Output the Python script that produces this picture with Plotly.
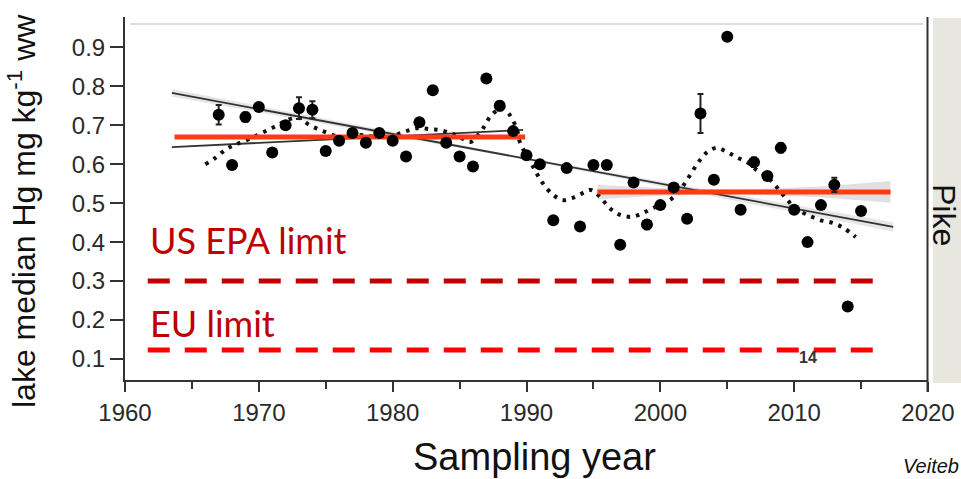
import plotly.graph_objects as go
import numpy as np

# ---------------- data ----------------
years = list(range(1967, 2016))
hg_median = [0.727, 0.598, 0.721, 0.747, 0.630, 0.700, 0.744, 0.740, 0.634, 0.660,
             0.680, 0.655, 0.680, 0.660, 0.620, 0.708, 0.790, 0.655, 0.620, 0.594,
             0.820, 0.750, 0.685, 0.623, 0.600, 0.456, 0.590, 0.440, 0.598, 0.598,
             0.393, 0.553, 0.445, 0.495, 0.540, 0.460, 0.730, 0.560, 0.927, 0.483,
             0.605, 0.570, 0.642, 0.483, 0.400, 0.495, 0.547, 0.235, 0.480]
hg_err = [0.025, 0, 0.012, 0.010, 0, 0.008, 0.028, 0.022, 0, 0,
          0, 0, 0, 0, 0, 0, 0, 0, 0, 0,
          0, 0.012, 0, 0, 0, 0, 0, 0, 0, 0,
          0, 0, 0.012, 0, 0, 0, 0.050, 0, 0, 0,
          0.012, 0, 0.012, 0, 0, 0, 0.018, 0, 0]

loess_years = [1966.0, 1966.7, 1967.5, 1968.2, 1969.1, 1969.9, 1970.7, 1971.4, 1972.1, 1972.9,
               1973.3, 1973.8, 1974.6, 1975.3, 1976.1, 1976.8, 1977.6, 1978.3, 1979.1, 1979.8,
               1980.6, 1981.3, 1982.0, 1982.8, 1983.5, 1984.3, 1985.0, 1985.8, 1986.5, 1986.9,
               1987.3, 1987.8, 1988.2, 1988.6, 1988.9, 1989.3, 1989.5, 1990.5, 1991.2, 1992.0,
               1992.7, 1993.4, 1994.2, 1994.8, 1995.5, 1996.2, 1997.0, 1997.9, 1998.7, 1999.5,
               2000.5, 2001.3, 2002.0, 2002.8, 2003.5, 2004.2, 2005.0, 2005.7, 2006.5, 2007.2,
               2008.0, 2008.7, 2009.5, 2010.2, 2011.0, 2011.9, 2012.9, 2013.7, 2014.6]
loess_vals = [0.600, 0.615, 0.637, 0.650, 0.662, 0.675, 0.688, 0.700, 0.713, 0.720,
              0.713, 0.700, 0.688, 0.678, 0.670, 0.672, 0.675, 0.672, 0.670, 0.670,
              0.680, 0.688, 0.693, 0.690, 0.688, 0.680, 0.670, 0.657, 0.680, 0.700,
              0.723, 0.738, 0.744, 0.733, 0.718, 0.688, 0.657, 0.593, 0.552, 0.521,
              0.508, 0.513, 0.526, 0.534, 0.516, 0.488, 0.470, 0.465, 0.475, 0.488,
              0.503, 0.526, 0.560, 0.603, 0.631, 0.642, 0.631, 0.618, 0.605, 0.585,
              0.567, 0.541, 0.508, 0.483, 0.470, 0.457, 0.449, 0.436, 0.413]

trend_all_years = [1963.5, 2017.4]
trend_all_vals = [0.783, 0.439]
trend_all_band_years = [1963.5, 1990.0, 2017.4]
trend_all_band_half = [0.010, 0.003, 0.012]

trend_p1_years = [1963.5, 1989.75]
trend_p1_vals = [0.644, 0.688]

mean_p1_years = [1963.7, 1989.9]
mean_p1_vals = [0.670, 0.670]

mean_p2_years = [1995.3, 2017.2]
mean_p2_vals = [0.529, 0.529]
mean_p2_band_years = [1995.3, 2000.0, 2006.0, 2012.0, 2017.2]
mean_p2_band_half = [0.018, 0.010, 0.006, 0.014, 0.028]

us_epa_years = [1961.7, 2016.3]
us_epa_vals = [0.300, 0.300]
eu_years = [1961.7, 2016.9]
eu_vals = [0.123, 0.123]

y_ticks = [0.1, 0.2, 0.3, 0.4, 0.5, 0.6, 0.7, 0.8, 0.9]
x_ticks = [1960, 1970, 1980, 1990, 2000, 2010, 2020]

# ---------------- figure ----------------
W, H = 961, 479
ML, MR, MT, MB = 125, 33, 17, 99
PW, PH = W - ML - MR, H - MT - MB


def px(xp):
    return (xp - ML) / PW


def py(yp):
    return (H - MB - yp) / PH


fig = go.Figure()


def band(xs, centre_x, centre_y, half, color):
    xs = np.array(xs, dtype=float)
    c = np.interp(xs, centre_x, centre_y)
    h = np.array(half)
    fig.add_trace(go.Scatter(x=list(xs) + list(xs[::-1]),
                             y=list(c + h) + list((c - h)[::-1]),
                             fill="toself", fillcolor=color, mode="none",
                             hoverinfo="skip", showlegend=False))


band(trend_all_band_years, trend_all_years, trend_all_vals, trend_all_band_half,
     "rgba(200,200,200,0.45)")
band(mean_p2_band_years, mean_p2_years, mean_p2_vals, mean_p2_band_half,
     "rgba(205,205,205,0.6)")

# limit lines
fig.add_trace(go.Scatter(x=us_epa_years, y=us_epa_vals, mode="lines",
                         line=dict(color="#C00000", width=5, dash="22px,15px"),
                         showlegend=False, hoverinfo="skip"))
fig.add_trace(go.Scatter(x=eu_years, y=eu_vals, mode="lines",
                         line=dict(color="#FF0000", width=5, dash="22px,15px"),
                         showlegend=False, hoverinfo="skip"))

# regression lines
fig.add_trace(go.Scatter(x=trend_all_years, y=trend_all_vals, mode="lines",
                         line=dict(color="#333333", width=1.8), showlegend=False))
fig.add_trace(go.Scatter(x=trend_p1_years, y=trend_p1_vals, mode="lines",
                         line=dict(color="#333333", width=1.8), showlegend=False))

# loess dotted
fig.add_trace(go.Scatter(x=loess_years, y=loess_vals, mode="lines",
                         line=dict(color="#111111", width=4, dash="3.5px,6px", shape="spline"),
                         showlegend=False))

# period means
fig.add_trace(go.Scatter(x=mean_p1_years, y=mean_p1_vals, mode="lines",
                         line=dict(color="#FF3B14", width=5), showlegend=False))
fig.add_trace(go.Scatter(x=mean_p2_years, y=mean_p2_vals, mode="lines",
                         line=dict(color="#FF3B14", width=5), showlegend=False))

# points
fig.add_trace(go.Scatter(x=years, y=hg_median, mode="markers",
                         marker=dict(color="#000000", size=12),
                         error_y=dict(type="data", array=hg_err, visible=True,
                                      color="#222222", thickness=2, width=3),
                         showlegend=False))

tick_font = dict(family="Liberation Sans, Arial", size=24, color="#2a2a2a")

fig.update_xaxes(range=[1960, 2020], tickvals=x_ticks, ticks="outside", ticklen=10,
                 tickwidth=2, tickcolor="#333333", showline=True, linecolor="#333333",
                 linewidth=2, showgrid=False, zeroline=False, tickfont=tick_font,
                 automargin=False,
                 minor=dict(dtick=5, tick0=1965, ticks="outside", ticklen=7,
                            tickwidth=2, tickcolor="#333333"))
fig.update_yaxes(range=[0.046, 0.978], tickvals=y_ticks, ticktext=[f"{v:.1f}" for v in y_ticks],
                 ticks="outside", ticklen=13, tickwidth=2, tickcolor="#333333",
                 showline=True, linecolor="#333333", linewidth=2, mirror=False,
                 showgrid=False, zeroline=False, tickfont=tick_font, automargin=False)

shapes = [
    # right facet strip
    dict(type="rect", xref="paper", yref="paper", x0=px(933), x1=px(975),
         y0=py(383), y1=py(18), fillcolor="#E7E7E0", line=dict(width=0), layer="below"),
    # right border line
    dict(type="line", xref="paper", yref="paper", x0=px(927.5), x1=px(927.5),
         y0=py(392), y1=py(17), line=dict(color="#333333", width=2)),
    # faint top border
    dict(type="line", xref="paper", yref="paper", x0=px(130), x1=px(923),
         y0=py(24), y1=py(24), line=dict(color="#DDDDDD", width=2)),
]

annotations = [
    dict(text="lake median Hg mg kg<sup>-1</sup> ww", xref="paper", yref="paper",
         x=px(22), y=py(211), textangle=-90, showarrow=False,
         font=dict(family="Liberation Sans, Arial", size=32, color="#111111"),
         xanchor="center", yanchor="middle"),
    dict(text="Sampling year", xref="paper", yref="paper", x=px(534), y=py(457),
         showarrow=False, font=dict(family="Liberation Sans, Arial", size=38, color="#111111"),
         xanchor="center", yanchor="middle"),
    dict(text="Pike", xref="paper", yref="paper", x=px(944), y=py(215), textangle=90,
         showarrow=False, font=dict(family="Liberation Sans, Arial", size=32, color="#111111"),
         xanchor="center", yanchor="middle"),
    dict(text="<i>Veiteb</i>", xref="paper", yref="paper", x=px(901), y=py(466),
         showarrow=False, font=dict(family="Liberation Sans, Arial", size=20, color="#111111"),
         xanchor="left", yanchor="middle"),
    dict(text="US EPA limit", x=us_epa_years[0], y=0.406, xref="x", yref="y",
         showarrow=False, xanchor="left", yanchor="middle",
         font=dict(family="Lato", size=36, color="#C00000")),
    dict(text="EU limit", x=eu_years[0], y=0.192, xref="x", yref="y",
         showarrow=False, xanchor="left", yanchor="middle",
         font=dict(family="Lato", size=36, color="#C00000")),
    dict(text="<b>14</b>", x=2011.0, y=0.105, xref="x", yref="y", showarrow=False,
         font=dict(family="Liberation Sans, Arial", size=16, color="#333333")),
]

fig.update_layout(width=W, height=H, margin=dict(l=ML, r=MR, t=MT, b=MB, autoexpand=False),
                  paper_bgcolor="white", plot_bgcolor="white",
                  shapes=shapes, annotations=annotations, showlegend=False)

fig.write_html("out.html", config={"displayModeBar": False},
               post_script="document.body.style.margin='0px';document.body.style.overflow='hidden';")
